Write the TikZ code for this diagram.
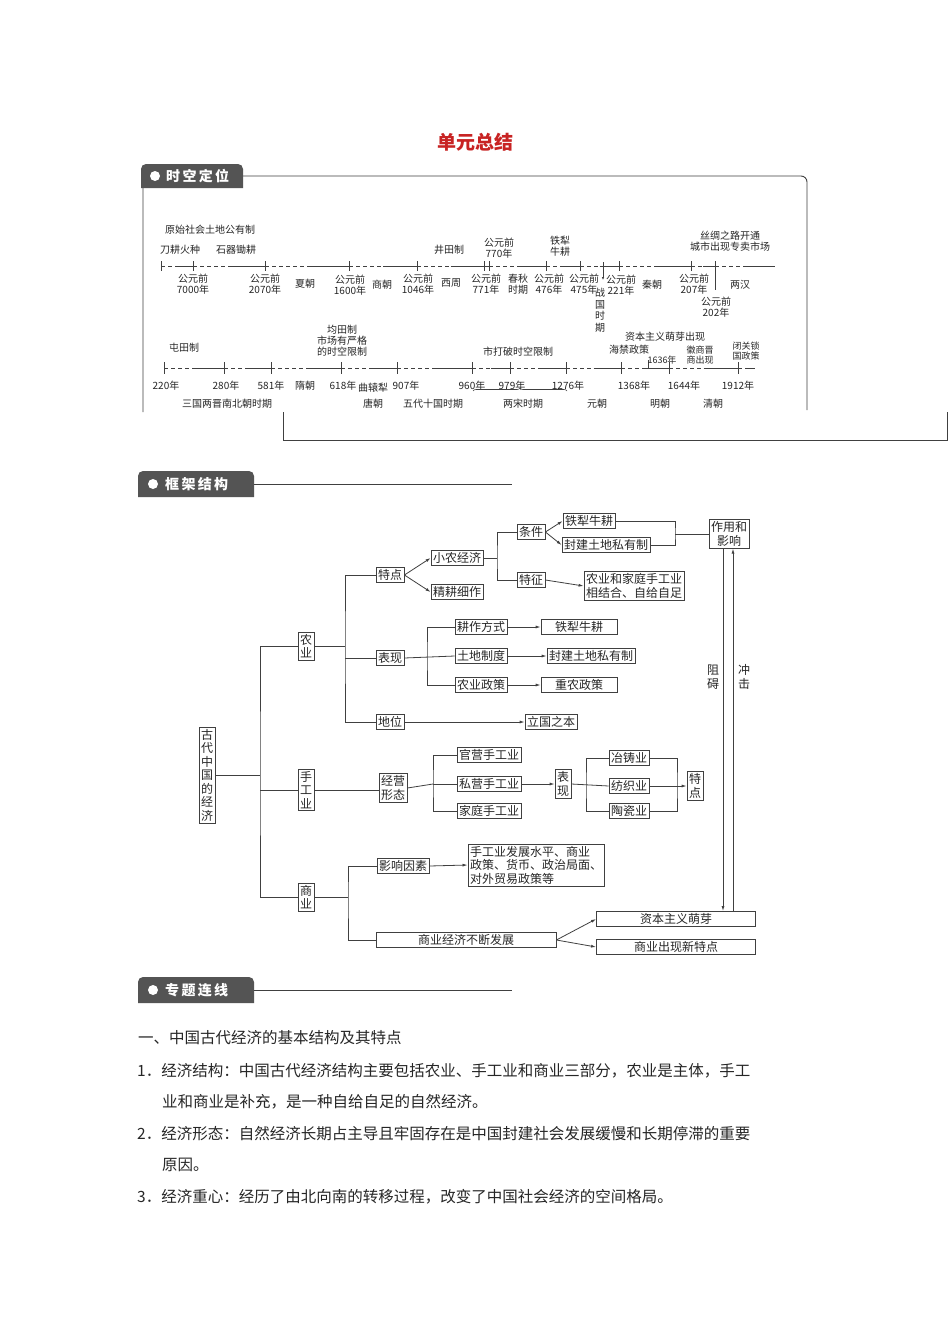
\documentclass[tikz,border=0pt]{standalone}
\usepackage{fontspec}
\setmainfont{Noto Sans CJK SC}
\usetikzlibrary{arrows.meta,decorations.pathreplacing}
\definecolor{ln}{gray}{0.25}
\definecolor{badge}{gray}{0.33}
\tikzset{
 tl/.style={font=\fontsize{10}{11}\selectfont, inner sep=0pt, align=center, text=black!85},
 bx/.style={draw=ln, line width=0.8pt, font=\fontsize{12}{13.5}\selectfont, inner sep=2pt, align=center, text=black!85},
 vb/.style={bx, inner xsep=2pt, inner ysep=2pt},
 cn/.style={draw=ln, line width=0.8pt},
 ar/.style={cn, -{Latex[length=5pt,width=3pt]}},
 body/.style={font=\fontsize{15.5}{17}\selectfont, anchor=west, inner sep=0pt, text=black!85},
 bdg/.style={text=white, font=\fontsize{14}{14}\bfseries\selectfont, inner sep=0pt, anchor=west},
}
\begin{document}
\begin{tikzpicture}[x=1pt,y=-1pt]
\useasboundingbox (0,0) rectangle (950,1344);
\fill[white] (0,0) rectangle (950,1344);
% title
\node[text={rgb,255:red,200;green,35;blue,35}, font=\fontsize{19}{20}\bfseries\selectfont] (title) at (475,142) {单元总结};
% frame 1
\draw[ln, line width=0.9pt, rounded corners=6pt] (143,412) -- (143,176) -- (807,176) -- (807,410);
\draw[ln, line width=0.8pt] (283,412) -- (283,440) -- (947,440) -- (947,412);
\fill[badge, rounded corners=5pt] (141,188) -- (141,164) -- (243,164) [sharp corners] -- (243,188) -- cycle;
\fill[white] (155,176) circle (5);
\node[bdg] (h1) at (166,176) {时\,空\,定\,位};
% ---- upper timeline
\foreach \a/\b in {161/193,193/265,265/349,349/417,417/484,489/546,546/580,580/619,619/691,691/715,715/775}{
 \draw[ln, line width=0.8pt, dash pattern=on 4pt off 3pt] (\a,266) -- ({(\a+\b)/2},266);
 \draw[ln, line width=0.8pt] ({(\a+\b)/2},266) -- (\b,266);}
\draw[ln, line width=0.8pt] (484,266) -- (489,266);
\foreach \x in {161,193,265,349,417,484,489,546,580,619,691,715}{\draw[ln,line width=0.8pt] (\x,261) -- (\x,271);}
\draw[ln,line width=0.8pt] (715,271) -- (715,290);
\draw[ln,line width=0.8pt,-{Latex[length=3pt,width=2.5pt]}] (603,262) -- (603,280);
\node[tl] (u1) at (210,230) {原始社会土地公有制};
\node[tl] (u2) at (180,250) {刀耕火种};
\node[tl] (u3) at (236,250) {石器锄耕};
\node[tl] (u4) at (449,250) {井田制};
\node[tl] (u5) at (499,248) {公元前\\770年};
\node[tl] (u6) at (560,246) {铁犁\\牛耕};
\node[tl] (u7) at (730,241) {丝绸之路开通\\城市出现专卖市场};
\node[tl] (d1) at (193,284) {公元前\\7000年};
\node[tl] (d2) at (265,284) {公元前\\2070年};
\node[tl] (d3) at (305,284) {夏朝};
\node[tl] (d4) at (350,285) {公元前\\1600年};
\node[tl] (d5) at (382,285) {商朝};
\node[tl] (d6) at (418,284) {公元前\\1046年};
\node[tl] (d7) at (451,283) {西周};
\node[tl] (d8) at (486,284) {公元前\\771年};
\node[tl] (d9) at (518,284) {春秋\\时期};
\node[tl] (d10) at (549,284) {公元前\\476年};
\node[tl] (d11) at (584,284) {公元前\\475年};
\node[tl, font=\fontsize{10}{11.5}\selectfont] (d12) at (600,310) {战\\国\\时\\期};
\node[tl] (d13) at (621,285) {公元前\\221年};
\node[tl] (d14) at (652,285) {秦朝};
\node[tl] (d15) at (694,284) {公元前\\207年};
\node[tl] (d16) at (716,307) {公元前\\202年};
\node[tl] (d17) at (740,285) {两汉};
% ---- lower timeline
\foreach \a/\b in {164/224,224/271,271/341,341/397,397/472,472/510,510/566,566/621,621/669,669/738,738/755}{
 \draw[ln, line width=0.8pt, dash pattern=on 4pt off 3pt] (\a,368) -- ({(\a+\b)/2},368);
 \draw[ln, line width=0.8pt] ({(\a+\b)/2},368) -- (\b,368);}
\foreach \x in {164,224,271,341,397,472,510,566,621,669,738}{\draw[ln,line width=0.8pt] (\x,362) -- (\x,374);}
\draw[ln,line width=0.8pt] (648,360) -- (648,368);
\node[tl] (l1) at (166,386) {220年};
\node[tl] (l2) at (226,386) {280年};
\node[tl] (l3) at (271,386) {581年};
\node[tl] (l4) at (305,386) {隋朝};
\node[tl] (l5) at (343,386) {618年};
\node[tl] (l6) at (373,388) {曲辕犁};
\node[tl] (l7) at (406,386) {907年};
\node[tl] (l8) at (472,386) {960年};
\node[tl] (l9) at (512,386) {979年};
\node[tl] (l10) at (568,386) {1276年};
\node[tl] (l11) at (634,386) {1368年};
\node[tl] (l12) at (684,386) {1644年};
\node[tl] (l13) at (738,386) {1912年};
\node[tl] (m1) at (227,404) {三国两晋南北朝时期};
\node[tl] (m2) at (373,404) {唐朝};
\node[tl] (m3) at (433,404) {五代十国时期};
\node[tl] (m4) at (523,404) {两宋时期};
\node[tl] (m5) at (597,404) {元朝};
\node[tl] (m6) at (660,404) {明朝};
\node[tl] (m7) at (713,404) {清朝};
\draw[ln, line width=0.6pt, decorate, decoration={brace, amplitude=3pt}] (473,391) -- (567,391);
\node[tl] (a1) at (184,348) {屯田制};
\node[tl] (a2) at (342,341) {均田制\\市场有严格\\的时空限制};
\node[tl] (a3) at (518,352) {市打破时空限制};
\node[tl] (a4) at (665,337) {资本主义萌芽出现};
\node[tl] (a5) at (629,350) {海禁政策};
\node[tl, font=\fontsize{9}{10}\selectfont] (a6) at (662,360) {1636年};
\node[tl, font=\fontsize{9}{10.5}\selectfont] (a7) at (700,355) {徽商晋\\商出现};
\node[tl, font=\fontsize{9}{10.5}\selectfont] (a8) at (746,351) {闭关锁\\国政策};
% ---- section 2
\fill[badge, rounded corners=5pt] (138,497) -- (138,471) -- (254,471) [sharp corners] -- (254,497) -- cycle;
\fill[white] (153,484) circle (5);
\node[bdg] (h2) at (165,484) {框\,架\,结\,构};
\draw[ln, line width=0.9pt] (254,484) -- (512,484);
\node[vb] (root) at (207,775) {古\\代\\中\\国\\的\\经\\济};
\node[vb] (ny) at (306,646) {农\\业};
\node[vb] (sgy) at (306,790) {手\\工\\业};
\node[vb] (sy) at (306,897) {商\\业};
\node[bx] (td) at (390,575) {特点};
\node[bx] (bx1) at (390,658) {表现};
\node[bx] (dw) at (390,722) {地位};
\node[bx] (xn) at (457,558) {小农经济};
\node[bx] (jg) at (457,592) {精耕细作};
\node[bx] (tj) at (531,532) {条件};
\node[bx] (tz) at (531,580) {特征};
\node[bx] (tl1) at (589,521) {铁犁牛耕};
\node[bx] (fj1) at (606,545) {封建土地私有制};
\node[bx] (zy) at (729,534) {作用和\\影响};
\node[bx] (nj) at (634,586) {农业和家庭手工业\\相结合、自给自足};
\node[bx] (gz) at (481,627) {耕作方式};
\node[bx] (td2) at (481,656) {土地制度};
\node[bx] (nz) at (481,685) {农业政策};
\node[bx, minimum width=76pt] (tl2) at (579,627) {铁犁牛耕};
\node[bx] (fj2) at (591,656) {封建土地私有制};
\node[bx, minimum width=76pt] (zn) at (579,685) {重农政策};
\node[bx] (lg) at (551,722) {立国之本};
\node[bx] (jy) at (393,788) {经营\\形态};
\node[bx] (gy) at (489,755) {官营手工业};
\node[bx] (sy2) at (489,784) {私营手工业};
\node[bx] (jt) at (489,811) {家庭手工业};
\node[vb] (bx2) at (563,784) {表\\现};
\node[bx] (yz) at (629,758) {冶铸业};
\node[bx] (fz) at (629,786) {纺织业};
\node[bx] (tc) at (629,811) {陶瓷业};
\node[vb] (td3) at (695,786) {特\\点};
\node[bx] (yx) at (403,866) {影响因素};
\node[bx, align=left] (sg) at (536,865) {手工业发展水平、商业\\政策、货币、政治局面、\\对外贸易政策等};
\node[bx, minimum width=180pt] (sj) at (466,940) {商业经济不断发展};
\node[bx, minimum width=159pt] (zb) at (676,919) {资本主义萌芽};
\node[bx, minimum width=159pt] (xt) at (676,947) {商业出现新特点};
% connectors
\coordinate (b0) at (260,775);
\draw[cn] (ny.west) -| (b0) |- (sy.west);
\draw[cn] (root.east) -- (root.east -| b0);
\draw[cn] (sgy.west) -- (sgy.west -| b0);
\coordinate (b1) at (345,646);
\draw[cn] (td.west) -| (b1) |- (dw.west);
\draw[cn] (ny.east) -- (b1);
\draw[cn] (bx1.west) -- (bx1.west -| b1);
\draw[ar] (td.east) -- (xn.west);
\draw[ar] (td.east) -- (jg.west);
\coordinate (b2) at (497,558);
\draw[cn] (tj.west) -| (b2) |- (tz.west);
\draw[cn] (xn.east) -- (b2);
\draw[ar] (tj.east) -- (tl1.west);
\draw[ar] (tj.east) -- (fj1.west);
\coordinate (jA) at (675,534);
\draw[cn] (tl1.east) -| (jA) |- (fj1.east);
\draw[cn] (jA) -- (zy.west);
\draw[ar] (tz.east) -- (nj.west);
\coordinate (b3) at (427,656);
\draw[cn] (gz.west) -| (b3) |- (nz.west);
\draw[cn] (bx1.east) -- (td2.west);
\draw[ar] (gz.east) -- (tl2.west);
\draw[ar] (td2.east) -- (fj2.west);
\draw[ar] (nz.east) -- (zn.west);
\draw[ar] (dw.east) -- (lg.west);
\draw[cn] (sgy.east) -- (sgy.east -| jy.west);
\coordinate (b4) at (433,784);
\draw[cn] (gy.west) -| (b4) |- (jt.west);
\draw[cn] (jy.east) -- (b4);
\draw[cn] (b4) -- (sy2.west);
\draw[ar] (sy2.east) -- (bx2.west);
\coordinate (b5) at (586,786);
\draw[cn] (yz.west) -| (b5) |- (tc.west);
\draw[cn] (bx2.east) -- (fz.west);
\coordinate (b6) at (677,786);
\draw[cn] (yz.east) -| (b6) |- (tc.east);
\draw[ar] (fz.east) -- (td3.west);
\coordinate (b7) at (348,897);
\draw[cn] (yx.west) -| (b7) |- (sj.west);
\draw[cn] (sy.east) -- (b7);
\draw[ar] (yx.east) -- (sg.west);
\draw[ar] (sj.east) -- (zb.west);
\draw[ar] (sj.east) -- (xt.west);
\draw[ar] (zy.south -| 723,0) -- (zb.north -| 723,0);
\draw[ar] (zb.north -| 733,0) -- (zy.south -| 733,0);
\node[bx, draw=none, inner sep=1pt] (zh) at (713,677) {阻\\碍};
\node[bx, draw=none, inner sep=1pt] (cj) at (744,677) {冲\\击};
% ---- section 3
\fill[badge, rounded corners=5pt] (138,1003) -- (138,977) -- (254,977) [sharp corners] -- (254,1003) -- cycle;
\fill[white] (153,990) circle (5);
\node[bdg] (h3) at (165,990) {专\,题\,连\,线};
\draw[ln, line width=0.9pt] (254,990) -- (512,990);
\node[body] (p0) at (138,1038) {一、中国古代经济的基本结构及其特点};
\node[body] (p1) at (137,1071) {1．经济结构：中国古代经济结构主要包括农业、手工业和商业三部分，农业是主体，手工};
\node[body] (p2) at (162,1102) {业和商业是补充，是一种自给自足的自然经济。};
\node[body] (p3) at (137,1134) {2．经济形态：自然经济长期占主导且牢固存在是中国封建社会发展缓慢和长期停滞的重要};
\node[body] (p4) at (162,1165) {原因。};
\node[body] (p5) at (137,1197) {3．经济重心：经历了由北向南的转移过程，改变了中国社会经济的空间格局。};
\end{tikzpicture}
\end{document}
